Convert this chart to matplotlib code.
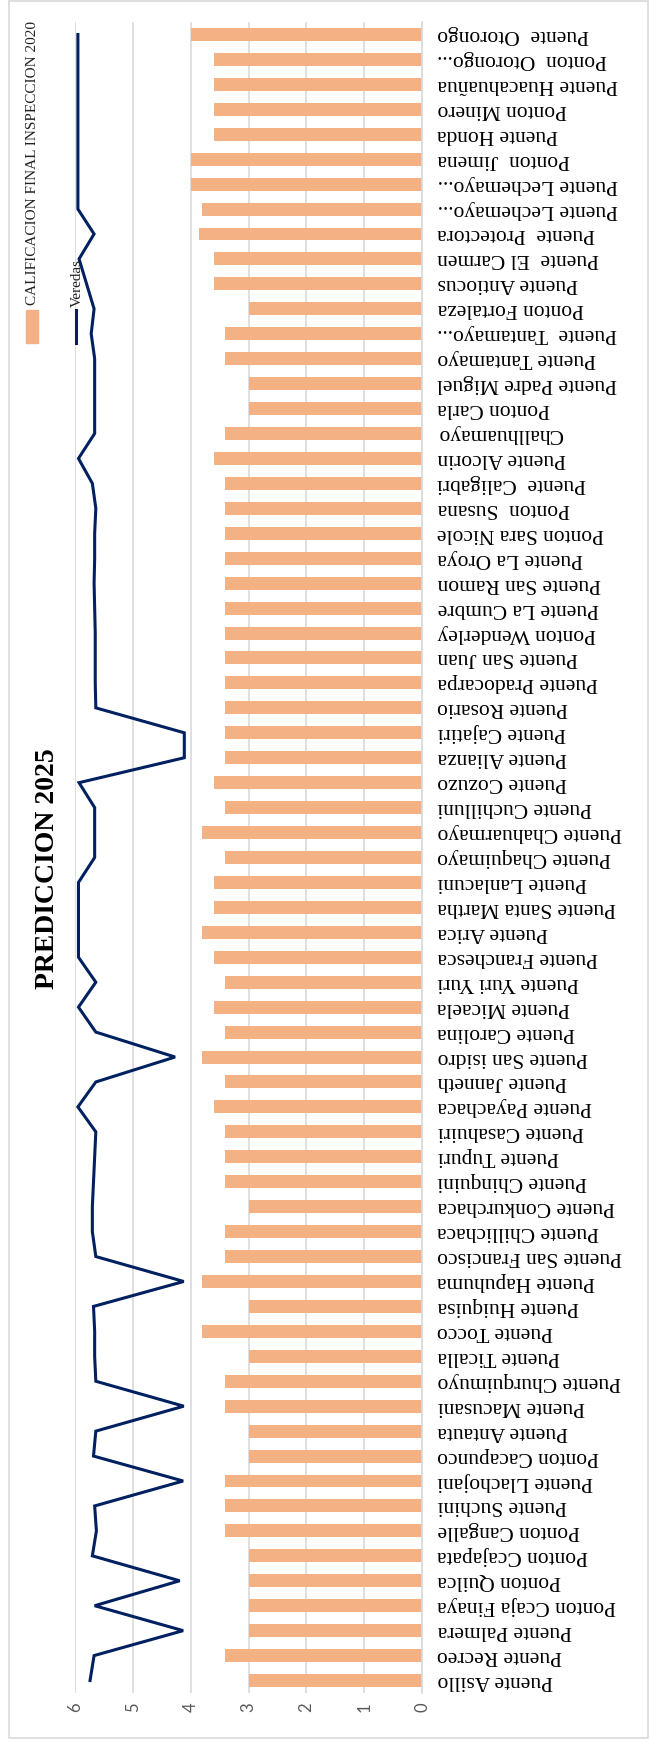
import numpy as np
import matplotlib
matplotlib.use("Agg")
import matplotlib.pyplot as plt
from matplotlib.patches import Rectangle
from matplotlib.lines import Line2D

# ---------------- data (index 0 = bottom of the chart) ----------------
categories = [
    "Puente Asillo", "Puente Recreo", "Puente Palmera", "Ponton Ccaja Finaya",
    "Ponton Quilca", "Ponton Ccajapata", "Ponton Cangalle", "Puente Suchini",
    "Puente Llachojani", "Ponton Cacapunco", "Puente Antauta", "Puente Macusani",
    "Puente Churquimuyo", "Puente Ticalla", "Puente Tocco", "Puente Huiquisa",
    "Puente Hapuhuma", "Puente San Francisco", "Puente Chillichaca",
    "Puente Conkurchaca", "Puente Chinquini", "Puente Tupuri", "Puente Casahuiri",
    "Puente Payachaca", "Puente Janneth", "Puente San isidro", "Puente Carolina",
    "Puente Micaela", "Puente Yuri Yuri", "Puente Franchesca", "Puente Arica",
    "Puente Santa Martha", "Puente Lanlacuni", "Puente Chaquimayo",
    "Puente Chahuarmayo", "Puente Cuchilluni", "Puente Cozuzo", "Puente Alianza",
    "Puente Cajatiri", "Puente Rosario", "Puente Pradocarpa", "Puente San Juan",
    "Ponton Wenderley", "Puente La Cumbre", "Puente San Ramon", "Puente La Oroya",
    "Ponton Sara Nicole", "Ponton  Susana", "Puente  Caligabri", "Puente Alcorin",
    "Challhuamayo", "Ponton Carla", "Puente Padre Miguel", "Puente Tantamayo",
    "Puente  Tantamayo...", "Ponton Fortaleza", "Puente Antiocus",
    "Puente  El Carmen", "Puente  Protectora", "Puente Lechemayo...",
    "Puente Lechemayo...", "Ponton  Jimena", "Puente Honda", "Ponton Minero",
    "Puente Huacahuañua", "Ponton  Otorongo...", "Puente  Otorongo",
]

calificacion_2020 = [
    3.0, 3.4, 3.0, 3.0, 3.0, 3.0, 3.4, 3.4, 3.4, 3.0,
    3.0, 3.4, 3.4, 3.0, 3.8, 3.0, 3.8, 3.4, 3.4, 3.0,
    3.4, 3.4, 3.4, 3.6, 3.4, 3.8, 3.4, 3.6, 3.4, 3.6,
    3.8, 3.6, 3.6, 3.4, 3.8, 3.4, 3.6, 3.4, 3.4, 3.4,
    3.4, 3.4, 3.4, 3.4, 3.4, 3.4, 3.4, 3.4, 3.4, 3.6,
    3.4, 3.0, 3.0, 3.4, 3.4, 3.0, 3.6, 3.6, 3.85, 3.8,
    4.0, 4.0, 3.6, 3.6, 3.6, 3.6, 4.0,
]

veredas = [
    5.74, 5.67, 4.13, 5.66, 4.19, 5.70, 5.63, 5.66, 4.13, 5.68,
    5.64, 4.12, 5.64, 5.66, 5.66, 5.68, 4.12, 5.64, 5.70, 5.70,
    5.68, 5.66, 5.64, 5.95, 5.64, 4.27, 5.64, 5.94, 5.64, 5.94,
    5.94, 5.94, 5.94, 5.66, 5.66, 5.66, 5.93, 4.11, 4.11, 5.64,
    5.65, 5.65, 5.65, 5.66, 5.67, 5.66, 5.66, 5.64, 5.70, 5.94,
    5.66, 5.66, 5.66, 5.66, 5.72, 5.67, 5.80, 5.93, 5.67, 5.95,
    5.95, 5.95, 5.95, 5.95, 5.95, 5.95, 5.95,
]

value_ticks = [0, 1, 2, 3, 4, 5, 6]
title_text = "PREDICCION 2025"
legend_bar = "CALIFICACION FINAL INSPECCION 2020"
legend_line = "Veredas"

# ---------------- figure ----------------
W, H = 649, 1742
fig = plt.figure(figsize=(W / 100, H / 100), dpi=100)
fig.patch.set_facecolor("white")

ax_left, ax_right, ax_top, ax_bottom = 75, 422, 22, 1693
ax = fig.add_axes([ax_left / W, (H - ax_bottom) / H,
                   (ax_right - ax_left) / W, (ax_bottom - ax_top) / H])

pos = np.arange(len(categories))
ax.barh(pos, calificacion_2020, height=0.52, color="#F4B183", zorder=2)
ax.plot(veredas, pos, color="#002060", lw=2.2, zorder=3,
        solid_joinstyle="miter")

ax.set_xlim(6, 0)
ax.set_ylim(-0.5, len(categories) - 0.5)

ax.set_xticks(value_ticks)
ax.set_xticklabels([str(v) for v in value_ticks], rotation=90,
                   fontfamily="Lato", fontsize=12, color="#595959")
ax.tick_params(axis="x", length=0, pad=7)
ax.xaxis.grid(True, color="#D9D9D9", lw=1.2, zorder=0)
ax.set_axisbelow(True)

ax.yaxis.tick_right()
ax.set_yticks(pos)
ax.set_yticklabels(categories, rotation=180, ha="left", va="center",
                   fontfamily="Liberation Serif", fontsize=15.5, color="black")
ax.tick_params(axis="y", length=0, pad=11)

for s in ["left", "top", "bottom"]:
    ax.spines[s].set_visible(False)
ax.spines["right"].set_color("#D9D9D9")
ax.spines["right"].set_linewidth(1.2)

# chart-area frame
fig.patches.append(Rectangle((9 / W, 4 / H), (648 - 9) / W, (1741 - 4) / H,
                             transform=fig.transFigure, fill=False,
                             ec="#D9D9D9", lw=1.2))

# title (rotated)
fig.text(48 / W, (H - 869) / H, title_text, rotation=90, ha="center",
         va="center", fontfamily="Liberation Serif", fontweight="bold",
         fontsize=20, color="black")

# legend (rotated)
fig.patches.append(Rectangle((26 / W, (H - 343) / H), 12 / W, 33 / H,
                             transform=fig.transFigure, color="#F4B183"))
fig.text(33 / W, (H - 305) / H, legend_bar, rotation=90, ha="center",
         va="bottom", fontfamily="Liberation Serif", fontsize=11,
         color="#222222")
fig.lines.append(Line2D([76 / W, 76 / W], [(H - 343) / H, (H - 310) / H],
                        transform=fig.transFigure, color="#002060", lw=2.2))
fig.text(77 / W, (H - 307) / H, legend_line, rotation=90, ha="center",
         va="bottom", fontfamily="Liberation Serif", fontsize=11,
         color="#222222", zorder=5)

fig.savefig("out.png", dpi=100, facecolor="white")
